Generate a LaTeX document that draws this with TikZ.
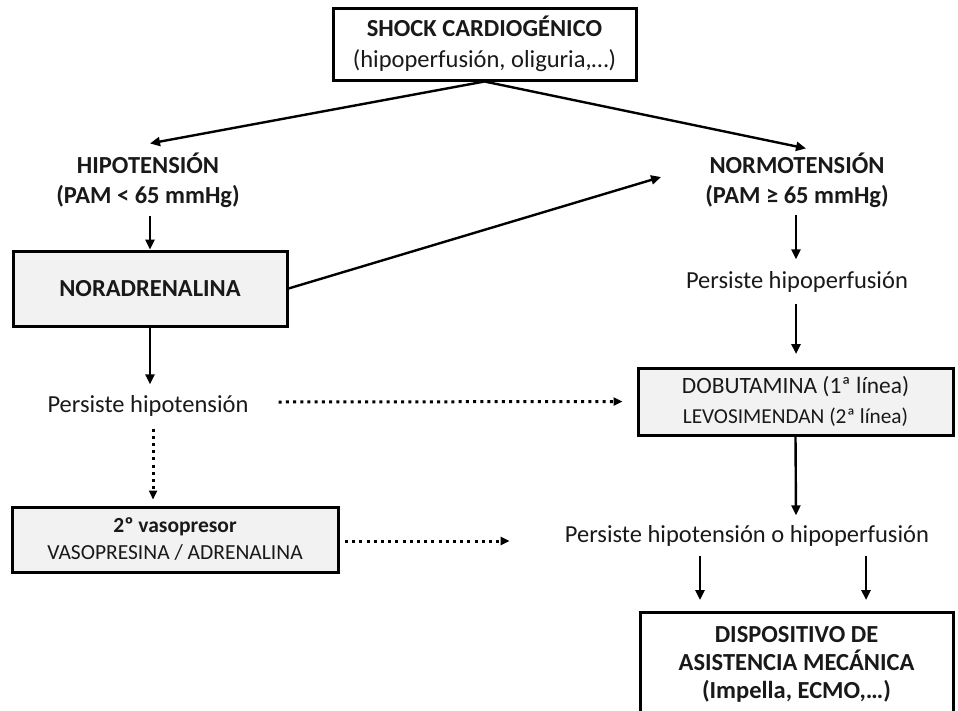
\documentclass[tikz,border=0pt]{standalone}
\usepackage{fontspec}
\setmainfont{Carlito}
\usetikzlibrary{arrows.meta}
\begin{document}
\begin{tikzpicture}[x=1pt,y=-1pt,
  every node/.style={font=\fontsize{24.5}{30}\selectfont, text=black!90},
  txt/.style={inner sep=0pt, align=center},
  box/.style={draw=black, line width=3pt, align=center, inner sep=0pt},
  graybox/.style={box, fill=gray!10},
  arr/.style={-{Triangle[length=10pt,width=9pt]}, line width=2.4pt},
  dotarr/.style={-{Triangle[length=9pt,width=8pt]}, line width=3pt, dash pattern=on 3pt off 4.2pt}]
\clip (0,0) rectangle (958,710);
\fill[white] (0,0) rectangle (958,710);

% nodes
\node[box, minimum width=303pt, minimum height=72pt] (top) at (484.5,44)
  {\textbf{SHOCK CARDIOGÉNICO}\\[1pt](hipoperfusión, oliguria,…)};
\node[txt, font=\fontsize{24.5}{30}\selectfont\bfseries] (hipo) at (148,180)
  {HIPOTENSIÓN\\(PAM < 65 mmHg)};
\node[txt, font=\fontsize{24.5}{30}\selectfont\bfseries] (normo) at (797,180)
  {NORMOTENSIÓN\\(PAM ≥ 65 mmHg)};
\node[graybox, minimum width=274pt, minimum height=75pt, font=\fontsize{24.5}{30}\selectfont\bfseries] (nor) at (150,288.5)
  {NORADRENALINA};
\node[txt] (ph) at (797,282) {Persiste hipoperfusión};
\node[graybox, minimum width=315pt, minimum height=67pt] (dob) at (795.5,401.5)
  {{\fontsize{23.4}{26}\selectfont DOBUTAMINA (1ª línea)}\\{\fontsize{21.3}{26}\selectfont LEVOSIMENDAN (2ª línea)}};
\node[txt] (pht) at (148,406) {Persiste hipotensión};
\node[graybox, minimum width=326pt, minimum height=65pt, font=\fontsize{21.5}{27}\selectfont] (vas) at (175,539.5)
  {\textbf{2º vasopresor}\\VASOPRESINA / ADRENALINA};
\node[txt] (pho) at (747,536) {Persiste hipotensión o hipoperfusión};
\node[box, minimum width=313pt, minimum height=104pt, font=\fontsize{24.5}{28}\selectfont\bfseries] (disp) at (796.5,664)
  {DISPOSITIVO DE\\ASISTENCIA MECÁNICA\\(Impella, ECMO,…)};

% connectors
\draw[arr] (top.south) -- ([xshift=2pt,yshift=9pt]hipo.north);
\draw[arr] (top.south) -- ([xshift=9pt,yshift=4pt]normo.north);
\draw[arr] ([xshift=2pt,yshift=-8pt]hipo.south) -- ([xshift=0pt]nor.north);
\draw[arr] (nor.east) -- ([xshift=-44pt,yshift=3pt]normo.west);
\draw[arr] ([xshift=-1pt,yshift=-7pt]normo.south) -- ([xshift=-1pt,yshift=12pt]ph.north);
\draw[arr] ([xshift=-1pt,yshift=-11pt]ph.south) -- ([xshift=0.5pt,yshift=12.5pt]dob.north);
\draw[arr] (nor.south) -- ([xshift=2pt,yshift=11pt]pht.north);
\draw[dotarr] ([xshift=30pt,yshift=4pt]pht.east) -- ([xshift=-14pt]dob.west);
\draw[dotarr] ([xshift=5pt,yshift=-12pt]pht.south) -- ([xshift=-22pt,yshift=6pt]vas.north);
\draw[dotarr] ([xshift=5.5pt,yshift=-1.5pt]vas.east) -- ([xshift=-55pt,yshift=-5pt]pho.west);
\draw[arr] (dob.south) -- ([xshift=49pt,yshift=10pt]pho.north);
\draw[arr] ([xshift=-47pt,yshift=-9pt]pho.south) -- ([xshift=-96.5pt,yshift=10.5pt]disp.north);
\draw[arr] ([xshift=119pt,yshift=-9pt]pho.south) -- ([xshift=69.5pt,yshift=10.5pt]disp.north);
\end{tikzpicture}
\end{document}
